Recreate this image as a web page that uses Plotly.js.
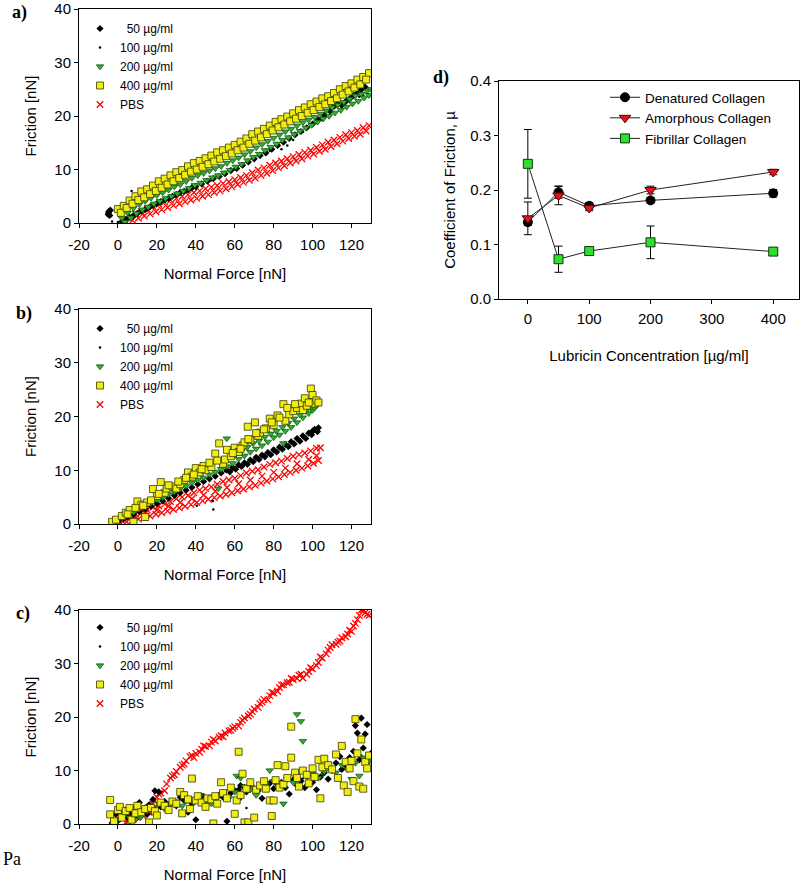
<!DOCTYPE html>
<html>
<head>
<meta charset="utf-8">
<script src="https://cdn.plot.ly/plotly-3.0.1.min.js"></script>
<style>html,body{margin:0;padding:0;background:#fff;}#chart{width:800px;height:884px;}</style>
</head>
<body>
<div id="chart"></div>
<script>
// ---------- series names ----------
const seriesNames = ['\u00a0\u00a050 \u00b5g/ml', '100 \u00b5g/ml', '200 \u00b5g/ml', '400 \u00b5g/ml', 'PBS'];
const forceTicks = [-20, 0, 20, 40, 60, 80, 100, 120];
const forceTickText = ['-20', '0', '20', '40', '60', '80', '100', '120'];

// ---------- panel a) ----------
const a50X = [-5,-4.6,-4.2,-4.8,-3.9,2,4,6,8,10,12,14,16,18,20,22,24,26,28,30,32,34,36,38,40,43,46,49,52,55,58,61,64,67,70,73,76,79,82,85,88,91,94,97,100,103,106,109,111,113,115,117,119,121,123,125,127];
const a50Y = [1.6,2.2,1.4,1.9,2.4,0.3,0.7,1.1,1.4,1.8,2.2,2.5,2.9,3.3,3.6,4.0,4.3,4.6,5.0,5.3,5.7,5.9,6.2,6.6,6.8,7.3,7.8,8.3,8.7,9.2,9.8,10.2,10.8,11.4,12.0,12.6,13.1,13.8,14.5,15.1,15.8,16.5,17.1,17.8,18.5,19.3,20.1,20.9,21.8,22.3,22.0,22.7,23.2,23.8,24.3,24.9,25.4];
const a100X = [-3,0,7,12,25,35,48,60,70,78,84,87,90,95,105,112,118,124,126,128];
const a100Y = [0.3,0.2,6.0,2.4,4.6,6.0,8.0,10.0,12.2,13.5,13.8,14.5,15.5,17.0,19.2,21.8,23.0,23.6,23.9,24.2];
const a200X = [2,5,8,11,14,17,20,23,26,29,32,35,38,41,44,47,50,53,56,59,62,65,68,71,74,77,80,83,86,89,92,95,98,101,104,107,110,113,116,119,122,125,128,130,
  3.5,6.5,9.5,12.5,15.5,18.5,21.5,24.5,27.5,30.5,33.5,36.5,39.5,42.5,45.5,48.5,51.5,54.5,57.5,60.5,63.5,66.5,69.5,72.5,75.5,78.5,81.5,84.5,87.5,90.5,93.5,96.5,99.5,102.5,105.5,108.5,111.5,114.5,117.5,120.5,123.5,126.5,129];
const a200Y = [0.9,1.9,2.8,3.5,4.1,4.7,5.2,5.7,6.2,6.8,7.2,7.8,8.4,8.9,9.3,9.8,10.2,10.6,11.2,11.7,12.2,12.8,13.4,14.1,14.7,15.3,15.9,16.5,17.1,17.6,18.2,18.8,19.3,19.8,20.4,21.0,21.6,22.1,22.6,23.2,23.8,24.1,24.7,25.0,
  0.2,1.0,1.8,2.5,3.0,3.6,4.1,4.6,5.0,5.5,6.0,6.5,7.1,7.5,8.0,8.5,8.9,9.4,9.9,10.5,11.0,11.7,12.3,12.9,13.6,14.2,14.8,15.5,16.0,16.6,17.2,17.8,18.3,18.9,19.5,20.0,20.6,21.1,21.7,22.3,22.8,23.4,23.9];
const a400X = [0,3,6,9,12,15,18,21,24,27,30,33,36,39,42,45,48,51,54,57,60,63,66,69,72,75,78,81,84,87,90,93,96,99,102,105,108,111,114,117,120,123,126,129,
  1.5,4.5,7.5,10.5,13.5,16.5,19.5,22.5,25.5,28.5,31.5,34.5,37.5,40.5,43.5,46.5,49.5,52.5,55.5,58.5,61.5,64.5,67.5,70.5,73.5,76.5,79.5,82.5,85.5,88.5,91.5,94.5,97.5,100.5,103.5,106.5,109.5,112.5,115.5,118.5,121.5,124.5,127.5];
const a400Y = [2.6,3.2,4.2,5.0,5.9,6.3,7.0,7.8,8.3,8.9,9.5,9.9,10.6,11.2,11.6,12.1,12.6,13.2,13.6,14.1,14.6,15.2,15.8,16.6,17.1,17.6,18.2,18.9,19.4,19.9,20.5,21.1,21.6,22.2,22.7,23.3,23.7,24.3,25.0,25.6,26.1,26.8,27.3,28.0,
  1.9,2.8,3.6,4.3,4.8,5.4,6.0,6.6,7.2,7.8,8.4,9.0,9.6,10.0,10.5,11.0,11.5,12.0,12.5,13.0,13.6,14.1,14.8,15.4,16.0,16.6,17.3,17.9,18.4,19.0,19.5,20.0,20.6,21.1,21.7,22.2,22.8,23.3,24.0,24.6,25.3,25.9,26.8];
const aPbsX = [3,6,9,12,15,18,21,24,27,30,33,36,39,42,45,48,51,54,57,60,63,66,69,72,75,78,81,84,87,90,93,96,99,102,105,108,111,114,117,120,123,126,129,
  4.5,7.5,10.5,13.5,16.5,19.5,22.5,25.5,28.5,31.5,34.5,37.5,40.5,43.5,46.5,49.5,52.5,55.5,58.5,61.5,64.5,67.5,70.5,73.5,76.5,79.5,82.5,85.5,88.5,91.5,94.5,97.5,100.5,103.5,106.5,109.5,112.5,115.5,118.5,121.5,124.5,127.5];
const aPbsY = [0.5,1.1,1.7,2.1,2.6,3.1,3.5,3.9,4.3,4.6,5.0,5.3,5.7,6.0,6.4,6.7,7.0,7.4,7.7,8.1,8.5,8.9,9.4,9.9,10.3,10.8,11.2,11.6,12.0,12.4,12.8,13.2,13.6,14.1,14.6,15.1,15.5,16.0,16.5,16.9,17.3,17.8,18.2,
  0.1,0.5,0.9,1.3,1.7,2.1,2.5,2.9,3.3,3.6,4.0,4.3,4.6,5.0,5.3,5.7,6.0,6.4,6.8,7.2,7.6,8.0,8.4,8.9,9.3,9.8,10.3,10.7,11.2,11.6,12.0,12.5,12.9,13.4,13.8,14.3,14.8,15.3,15.8,16.2,16.6,17.2];

// ---------- panel b) ----------
const b50X = [-3,-1,1,3,5,8,11,14,17,20,23,26,29,32,35,38,41,44,47,50,53,56,59,62,65,68,71,74,77,80,83,86,89,92,95,98,100,101,102,103,
  57.5,60.5,63.5,66.5,69.5,72.5,75.5,78.5,81.5,84.5,87.5,90.5,93.5,96.5,99.5,102.5];
const b50Y = [0.3,0.5,0.8,1.0,1.3,1.8,2.3,2.8,3.3,3.8,4.3,4.8,5.3,5.8,6.3,6.8,7.4,7.9,8.4,8.9,9.5,10.0,10.5,11.0,11.4,11.9,12.4,12.8,13.3,13.8,14.3,14.8,15.3,15.9,16.4,16.9,17.3,17.6,17.4,17.9,
  9.7,10.2,10.7,11.1,11.6,12.0,12.5,12.9,13.4,13.9,14.4,14.9,15.4,15.9,16.6,17.2];
const b100X = [40.5,48.7,49,30,55,65,75,88,96,101];
const b100Y = [3.4,4.3,2.7,5.6,9.8,11.6,13.0,14.3,16.2,17.7];
const b200X = [-1,2,5,8,11,14,17,20,23,26,29,32,35,38,41,44,47,50,51.6,53,55.9,56,59,62,65,68,71,74,77,80,83,85,86,89,92,95,98,100,101,102,103,
  60.5,63.5,66.5,69.5,72.5,75.5,78.5,81.5,84.5,87.5,90.5,93.5,96.5,99.5,102.5];
const b200Y = [0.5,1.1,1.6,2.2,2.8,3.3,3.9,4.5,5.0,5.5,6.0,6.6,7.1,7.7,8.2,8.6,9.2,9.7,6.6,10.2,15.9,10.7,11.3,12.1,12.7,13.4,14.0,14.6,15.3,16.1,16.6,15.0,17.3,18.0,18.9,19.8,20.6,21.2,21.6,22.0,22.4,
  13.0,13.6,14.3,15.0,15.5,16.2,16.8,17.3,18.0,18.8,19.6,20.3,21.0,21.8,22.8];
const b400X = [-3,-1,2,4,6,8,10,12,14,15,18,20,22,24,25,28,30,32,34,36,38,40,42,44,45,48,50,52,54,55,58,60,62,64,65,66.7,68,70.4,72,73,76,78,80,82,85,86,88,90,92,94,95,97,99.1,100,101,102,103,
  5,9,13,17,21,26,31,35,39,43,47,51,56,59,63,67,71,75,79,83,87,91,96,98];
const b400Y = [0.4,0.8,1.5,2.1,2.6,0.4,4.2,3.6,1.3,4.0,6.5,5.2,7.8,5.8,6.6,7.0,6.6,7.4,8.2,9.6,8.8,10.4,9.6,10.8,10.0,10.6,13.1,15.0,11.2,12.0,12.6,14.2,13.4,14.6,15.2,18.1,15.6,18.9,16.4,17.0,17.8,19.6,18.4,20.2,22.3,19.2,20.4,21.0,21.6,22.4,21.2,22.0,25.2,24.0,22.4,23.0,22.6,
  1.8,3.0,3.4,4.4,5.6,7.2,7.9,8.6,9.2,10.2,11.4,11.8,13.8,13.2,14.0,15.8,16.9,17.6,18.9,19.8,21.6,22.3,23.4,22.6];
const bPbsX = [-3,0,3,6,9,12,15,18,21,24,27,30,33,36,39,42,45,48,51,54,57,60,63,66,69,72,75,78,81,84,87,90,93,96,99,102,104,
  -2,1.5,4.5,7.5,10.5,13.5,16.5,19.5,22.5,25.5,28.5,31.5,34.5,37.5,40.5,43.5,46.5,49.5,52.5,55.5,58.5,61.5,64.5,67.5,70.5,73.5,76.5,79.5,82.5,85.5,88.5,91.5,94.5,97.5,100.5,103,
  2,8,14,20,26,32,38,44,50,56,62,68,74,80,86,92,98,102];
const bPbsY = [0.2,0.7,1.0,1.5,1.8,2.1,2.6,3.1,3.4,3.7,4.2,4.7,5.0,5.3,5.8,6.3,6.6,6.9,7.4,7.9,8.2,8.5,9.0,9.5,9.8,10.1,10.6,11.1,11.4,11.7,12.2,12.6,12.9,13.2,13.6,14.1,14.2,
  0.0,0.1,0.4,0.7,0.9,1.2,1.5,1.8,2.1,2.4,2.7,3.0,3.3,3.6,4.0,4.3,4.6,4.9,5.2,5.5,5.8,6.2,6.5,6.9,7.2,7.6,8.0,8.4,8.8,9.2,9.6,10.0,10.4,10.8,11.3,11.8,
  0.6,1.3,2.0,2.6,3.3,4.0,4.7,5.4,6.1,6.8,7.5,8.2,8.9,9.6,10.4,11.2,12.0,12.7];

// ---------- panel c) ----------
const c50X = [-3,-1,0,1,2,4,5,6,8,9, 10,11,12,14,15,16,18,19,21,22, 24,26,28,30,32,34,36,38,40,41,
  43,45,47,50,52,54,56,58,60,62, 63,65,66,68,70,72,74,76,78,80, 82,84,86,88,90,92,94,96,98,100,
  102,104,106,108,110,112,114,115,117,119, 120,121,122,123,124,125,126,127,128,129,130];
const c50Y = [0.2,1.8,0.6,1.0,2.2,2.6,1.2,2.0,2.8,0.9, 3.4,4.0,2.4,3.0,1.8,3.6,4.6,6.2,6.0,3.2, 4.2,3.6,4.0,3.4,5.0,4.4,2.2,3.8,0.8,4.8,
  5.2,3.6,4.4,4.8,5.4,5.0,0.5,5.8,6.2,6.4, 7.2,6.8,6.0,7.4,6.6,6.2,4.8,7.0,7.6,6.6, 7.4,7.8,6.8,5.6,8.2,7.2,8.0,6.8,7.6,7.8,
  6.4,8.8,9.6,8.4,10.0,11.4,12.6,10.2,11.0,12.4, 11.6,13.6,18.4,17.0,12.0,19.8,14.2,16.8,18.6,12.8,13.2];
const c100X = [0,8,15,25,35,44,55,63,66,75,85,95,105,115,125];
const c100Y = [0.5,1.5,2.8,3.8,4.0,5.5,5.2,4.6,3.0,6.2,7.0,8.5,9.0,10.5,12.8];
const c200X = [3,6,9,12,15,18,21,24,27,30, 33,36,39,42,45,48,51,54,57,60, 61,63,65,68,71,73,76,78,80,83,
  85,87,90,92,94,95,97,100,103,106, 109,112,115,118,120,122,124,126,128,130];
const c200Y = [1.8,1.2,0.8,1.4,2.4,3.0,3.8,2.8,3.6,4.2, 3.4,4.6,4.0,5.2,4.4,3.8,5.0,5.6,4.8,6.0, 9.0,8.6,7.0,6.4,5.4,6.8,7.4,10.0,8.0,7.6,
  3.8,8.4,7.8,20.5,19.2,15.5,8.8,9.4,8.6,9.8, 10.4,9.6,11.0,10.2,8.4,11.4,9.0,12.4,11.2,12.0];
const c400X = [-4,-4,-2,0,1,2,4,6,7,9, 10,12,14,16,17,19,20,22,24,26, 28,30,32,33,34,36,37,38,40,41,
  43,45,46,48,49,50,51,53,54,56, 58,60,61,62,63,64,65,66,67,68, 70,71,73,75,76,78,79,80,81,82,
  83,85,86,87,89,89,91,92,93,95, 97,98,100,101,103,104,105,106,108,110, 112,113,115,116,117,118,119,120,121,122,
  123,124,125,126,127,128,129];
const c400Y = [4.5,1.8,0.5,2.6,3.2,1.2,2.4,3.0,0.8,2.0, 3.4,2.2,2.8,0.3,3.0,2.4,1.6,4.0,3.4,2.6, 4.2,3.8,6.0,2.0,5.4,4.6,2.8,8.5,4.4,5.2,
  4.0,3.2,4.8,4.6,0.1,5.2,3.8,7.8,5.8,4.8, 6.8,1.9,4.4,13.5,5.4,9.4,0.3,6.6,0.3,7.8, 1.2,6.4,7.2,8.0,6.6,4.4,1.5,4.4,8.2,11.0,
  6.8,7.4,10.8,8.6,18.2,12.4,9.6,8.6,7.0,10.0, 9.2,7.6,10.4,8.8,12.0,4.8,10.6,12.2,11.0,10.2, 13.0,8.6,14.6,7.2,11.6,6.0,10.4,11.8,8.0,19.6,
  13.2,7.0,15.8,6.6,11.6,10.4,12.8];
const cPbsX = [5,8,10,12,15,18,20,22,25,28, 30,33,35,38,40,43,45,48,50,53, 55,58,60,63,65,68,70,73,75,78, 80,83,85,88,90,93,95,98,100,103,
  105,108,110,113,115,118,120,122,124,125, 127,129,
  4,6,7,9,10,11,13,13,16,16, 19,21,24,27,29,32,34,37,39,42, 44,47,49,52,54,57,59,62,64,67, 69,72,74,77,79,82,84,87,89,92,
  94,97,99,102,104,107,109,112,114,117, 119,121,123,126,128];
const cPbsY = [0.5,1.2,1.8,2.3,2.8,3.8,5.0,5.8,7.5,9.0, 9.8,11.0,11.8,12.8,13.2,14.0,14.5,15.3,15.5,16.5, 17.0,17.5,18.2,19.0,19.8,20.5,21.5,22.5,23.3,24.0, 24.5,25.5,26.0,26.5,27.0,27.8,27.3,28.5,29.0,30.2,
  31.0,32.5,33.5,34.0,34.8,35.5,36.0,37.5,39.0,40.0, 39.5,39.0,
  0.3,0.9,0.8,1.4,1.2,2.5,1.9,1.5,2.2,2.5, 3.2,5.6,6.2,8.6,9.2,10.6,11.2,12.6,12.4,13.4, 14.6,14.6,15.8,16.2,16.3,17.4,17.9,18.3,19.4,20.2, 21.0,21.8,22.8,23.2,24.6,24.8,26.0,26.4,27.2,27.2,
  28.0,28.0,29.2,29.6,31.2,31.8,33.0,33.6,34.2,35.0, 36.2,37.0,38.2,40.1,39.2];

// ---------- panel d) ----------
const conc = [0, 50, 100, 200, 400];
const denatured = [0.141, 0.196, 0.171, 0.181, 0.194];
const denaturedErr = [0.006, 0.011, 0.006, 0.005, 0.007];
const amorphous = [0.148, 0.190, 0.167, 0.200, 0.233];
const amorphousErr = [0.030, 0.017, 0.005, 0.007, 0.005];
const fibrillar = [0.248, 0.073, 0.088, 0.104, 0.087];
const fibrillarErr = [0.063, 0.024, 0.004, 0.030, 0.003];
const dNames = ['Denatured Collagen', 'Amorphous Collagen', 'Fibrillar Collagen'];

// ---------- styles ----------
const styles = [
  {symbol: 'diamond', size: 5.5, color: '#000', line: {width: 0}},
  {symbol: 'circle', size: 2.5, color: '#000', line: {width: 0}},
  {symbol: 'triangle-down', size: 6.5, color: '#2db02d', line: {width: 0.7, color: '#0a4a0a'}},
  {symbol: 'square', size: 7, color: '#f0ee10', line: {width: 0.8, color: '#3a3a00'}},
  {symbol: 'x-thin-open', size: 6.5, color: '#ff0000', line: {width: 1.3, color: '#ff0000'}}
];

function sc(x, y, i, xa, ya, leg) {
  return {type: 'scatter', mode: 'markers', x: x, y: y, name: seriesNames[i],
    xaxis: xa, yaxis: ya, legend: leg, marker: styles[i], cliponaxis: true};
}

const traces = [];
const panels = [
  {xa: 'x', ya: 'y', leg: 'legend', data: [[a50X,a50Y],[a100X,a100Y],[a200X,a200Y],[a400X,a400Y],[aPbsX,aPbsY]]},
  {xa: 'x2', ya: 'y2', leg: 'legend2', data: [[b50X,b50Y],[b100X,b100Y],[b200X,b200Y],[b400X,b400Y],[bPbsX,bPbsY]]},
  {xa: 'x3', ya: 'y3', leg: 'legend3', data: [[c50X,c50Y],[c100X,c100Y],[c200X,c200Y],[c400X,c400Y],[cPbsX,cPbsY]]}
];
const drawOrder = [4, 0, 1, 2, 3];
panels.forEach(p => {
  drawOrder.forEach(i => {
    const t = sc(p.data[i][0], p.data[i][1], i, p.xa, p.ya, p.leg);
    t.legendrank = 1000 + i;
    traces.push(t);
  });
});

const dStyles = [
  {symbol: 'circle', size: 9, color: '#000', line: {width: 1, color: '#000'}},
  {symbol: 'triangle-down', size: 10, color: '#e0141a', line: {width: 1, color: '#5a0000'}},
  {symbol: 'square', size: 9, color: '#30dd30', line: {width: 1, color: '#0a3a0a'}}
];
[[denatured, denaturedErr], [amorphous, amorphousErr], [fibrillar, fibrillarErr]].forEach((s, i) => {
  traces.push({type: 'scatter', mode: 'lines+markers', x: conc, y: s[0], name: dNames[i],
    xaxis: 'x4', yaxis: 'y4', legend: 'legend4',
    line: {color: '#222', width: 1}, marker: dStyles[i],
    error_y: {type: 'data', array: s[1], visible: true, color: '#000', thickness: 1, width: 4}});
});

const H = 884, W = 800;
const fontFam = '"Liberation Sans", Arial, sans-serif';
function ax(extra) {
  return Object.assign({showline: true, linecolor: '#000', linewidth: 1, mirror: true,
    ticks: 'outside', ticklen: 4, tickcolor: '#000', tickwidth: 1,
    showgrid: false, zeroline: false, fixedrange: true,
    tickfont: {size: 15, color: '#000', family: fontFam}}, extra);
}
const xDomABC = [79 / W, 371 / W];
function yd(top, bot) { return [1 - bot / H, 1 - top / H]; }
const xTitle = {text: 'Normal Force [nN]', font: {size: 15, color: '#000'}, standoff: 16};
const yTitle = {text: 'Friction [nN]', font: {size: 15, color: '#000'}, standoff: 14};
const xForce = {range: [-20, 130], tickmode: 'array', tickvals: forceTicks, ticktext: forceTickText, ticklabelstandoff: 4, title: xTitle};

const legBase = {bgcolor: 'rgba(0,0,0,0)', borderwidth: 0, xanchor: 'left', yanchor: 'top',
  font: {size: 12, color: '#000', family: fontFam}, itemwidth: 30, tracegroupgap: 0};

const layout = {
  width: W, height: H,
  margin: {l: 0, r: 0, t: 0, b: 0},
  paper_bgcolor: '#fff', plot_bgcolor: '#fff',
  font: {family: fontFam, color: '#000'},
  showlegend: true,
  xaxis: ax(Object.assign({domain: xDomABC, anchor: 'y'}, xForce)),
  yaxis: ax({domain: yd(9, 223), range: [0, 40], dtick: 10, anchor: 'x', title: yTitle}),
  xaxis2: ax(Object.assign({domain: xDomABC, anchor: 'y2'}, xForce)),
  yaxis2: ax({domain: yd(309, 524), range: [0, 40], dtick: 10, anchor: 'x2', title: yTitle}),
  xaxis3: ax(Object.assign({domain: xDomABC, anchor: 'y3'}, xForce)),
  yaxis3: ax({domain: yd(610, 824), range: [0, 40], dtick: 10, anchor: 'x3', title: yTitle}),
  xaxis4: ax({domain: [499 / W, 799 / W], range: [-47, 442], tickvals: [0, 100, 200, 300, 400], anchor: 'y4', ticklabelstandoff: 2,
    title: {text: 'Lubricin Concentration [\u00b5g/ml]', font: {size: 15, color: '#000'}, standoff: 24}}),
  yaxis4: ax({domain: yd(81, 299), range: [0, 0.4], dtick: 0.1, tickformat: '.1f', anchor: 'x4',
    title: {text: 'Coefficient of Friction, \u00b5', font: {size: 15, color: '#000'}, standoff: 10}}),
  legend: Object.assign({}, legBase, {x: 80 / W, y: 1 - 14 / H}),
  legend2: Object.assign({}, legBase, {x: 80 / W, y: 1 - 314 / H}),
  legend3: Object.assign({}, legBase, {x: 80 / W, y: 1 - 613 / H}),
  legend4: Object.assign({}, legBase, {x: 605 / W, y: 1 - 82 / H, font: {size: 13.5, color: '#000', family: fontFam}}),
  annotations: [
    {text: '<b>a)</b>', x: 10 / W, y: 1 - 13 / H},
    {text: '<b>b)</b>', x: 14 / W, y: 1 - 313 / H},
    {text: '<b>c)</b>', x: 14 / W, y: 1 - 613 / H},
    {text: '<b>d)</b>', x: 431 / W, y: 1 - 77 / H},
    {text: 'Pa', x: 1 / W, y: 1 - 859 / H}
  ].map(a => ({text: a.text, x: a.x, y: a.y, xref: 'paper', yref: 'paper', xanchor: 'left', yanchor: 'middle',
    showarrow: false, font: {family: '"Liberation Serif", "Times New Roman", serif', size: 18, color: '#000'}}))
};

Plotly.newPlot('chart', traces, layout, {displayModeBar: false, staticPlot: true});
</script>
</body>
</html>
